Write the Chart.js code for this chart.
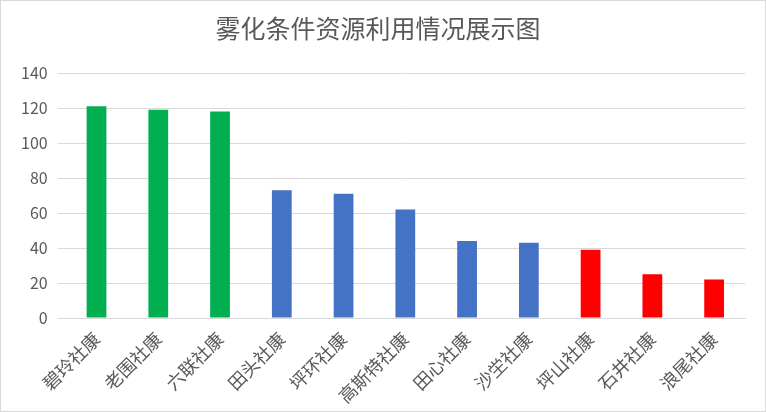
<!DOCTYPE html>
<html><head><meta charset="utf-8">
<script src="https://cdn.jsdelivr.net/npm/chart.js@4"></script>
<style>html,body{margin:0;padding:0;background:#fff}
#w{position:absolute;left:0;top:0;width:764px;height:410px;border:1px solid #d9d9d9}</style>
</head><body><div id="w"><canvas id="c"></canvas></div>
<script>
const categories=["碧玲社康","老围社康","六联社康","田头社康","坪环社康","高斯特社康","田心社康","沙坣社康","坪山社康","石井社康","浪尾社康"];
const values=[121,119,118,73,71,62,44,43,39,25,22];
const barColors=["#00b050","#00b050","#00b050","#4472c4","#4472c4","#4472c4","#4472c4","#4472c4","#ff0000","#ff0000","#ff0000"];
const yTicks=[0,20,40,60,80,100,120,140];
const F='"Noto Sans CJK SC","Noto Sans",sans-serif';
new Chart(document.getElementById('c'),{type:'bar',
data:{labels:categories,datasets:[{data:values,backgroundColor:barColors,barPercentage:0.32,categoryPercentage:1}]},
options:{responsive:true,maintainAspectRatio:false,animation:false,
layout:{padding:{left:10,right:20,top:8,bottom:2}},
plugins:{legend:{display:false},tooltip:{enabled:false},
title:{display:true,text:'雾化条件资源利用情况展示图',color:'#595959',font:{family:F,size:25,weight:'normal'},padding:{top:4,bottom:30}}},
scales:{x:{grid:{display:false},border:{color:'#d9d9d9'},ticks:{color:'#595959',font:{family:F,size:18},maxRotation:45,minRotation:45,padding:2}},
y:{min:0,max:140,afterBuildTicks:a=>{a.ticks=yTicks.map(v=>({value:v}))},grid:{color:'#d9d9d9'},border:{display:false},ticks:{color:'#595959',font:{family:F,size:16},padding:10}}}}});
</script></body></html>
